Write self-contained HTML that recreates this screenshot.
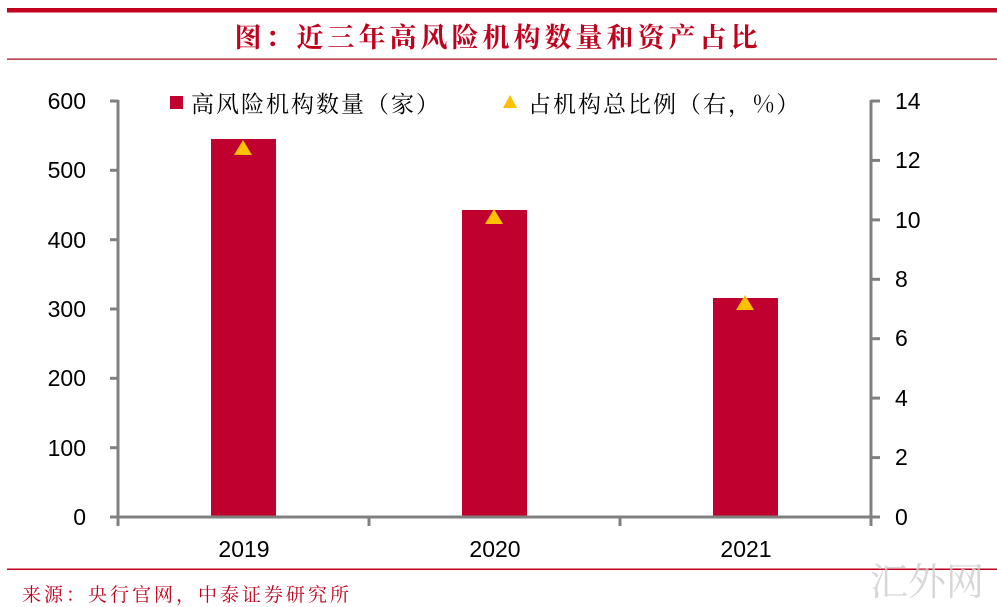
<!DOCTYPE html>
<html><head><meta charset="utf-8"><style>
body{margin:0;background:#fff;}
svg{display:block;}
</style></head><body>
<svg width="997" height="607" viewBox="0 0 997 607" xmlns="http://www.w3.org/2000/svg">
<rect x="7" y="8" width="990" height="4.5" fill="#c0001c"/>
<text x="498" y="47" text-anchor="middle" font-family="'Noto Serif CJK SC','Liberation Serif',serif" font-size="27" font-weight="bold" letter-spacing="4" fill="#c0001c">图：近三年高风险机构数量和资产占比</text>
<rect x="7" y="58.5" width="990" height="1.2" fill="#a00018"/>
<g fill="#c0002e">
<rect x="211" y="139" width="65" height="378"/>
<rect x="462" y="210" width="65" height="307"/>
<rect x="713" y="298" width="65" height="219"/>
</g>
<g stroke="#808080" stroke-width="3" fill="none">
<line x1="118" y1="100" x2="118" y2="518"/>
<line x1="871" y1="100" x2="871" y2="518"/>
<line x1="110" y1="517" x2="880" y2="517"/>
<line x1="110" y1="101" x2="118" y2="101"/><line x1="110" y1="170.3" x2="118" y2="170.3"/><line x1="110" y1="239.7" x2="118" y2="239.7"/><line x1="110" y1="309" x2="118" y2="309"/><line x1="110" y1="378.3" x2="118" y2="378.3"/><line x1="110" y1="447.7" x2="118" y2="447.7"/>
<line x1="871" y1="101" x2="880" y2="101"/><line x1="871" y1="160.4" x2="880" y2="160.4"/><line x1="871" y1="219.9" x2="880" y2="219.9"/><line x1="871" y1="279.3" x2="880" y2="279.3"/><line x1="871" y1="338.7" x2="880" y2="338.7"/><line x1="871" y1="398.1" x2="880" y2="398.1"/><line x1="871" y1="457.6" x2="880" y2="457.6"/>
<line x1="118" y1="517" x2="118" y2="526"/><line x1="369" y1="517" x2="369" y2="526"/><line x1="620" y1="517" x2="620" y2="526"/><line x1="871" y1="517" x2="871" y2="526"/>
</g>
<g font-family="'Liberation Sans',sans-serif" font-size="23" fill="#000" text-anchor="end">
<text x="86" y="109">600</text><text x="86" y="178">500</text><text x="86" y="248">400</text><text x="86" y="317">300</text><text x="86" y="386">200</text><text x="86" y="456">100</text><text x="86" y="525">0</text>
</g>
<g font-family="'Liberation Sans',sans-serif" font-size="23" fill="#000" text-anchor="start">
<text x="895" y="109">14</text><text x="895" y="168">12</text><text x="895" y="228">10</text><text x="895" y="287">8</text><text x="895" y="346">6</text><text x="895" y="406">4</text><text x="895" y="465">2</text><text x="895" y="525">0</text>
</g>
<g font-family="'Liberation Sans',sans-serif" font-size="23" fill="#000" text-anchor="middle">
<text x="244" y="557">2019</text><text x="495" y="557">2020</text><text x="746" y="557">2021</text>
</g>
<g fill="#ffc000">
<polygon points="243,140 234,155 252,155"/>
<polygon points="494,209 485,224 503,224"/>
<polygon points="745,295 736,310 754,310"/>
<polygon points="510,95 503,108 517,108"/>
</g>
<rect x="170" y="96" width="13" height="13" fill="#c0002e"/>
<g font-family="'Noto Serif CJK SC','Liberation Serif',serif" font-size="23" fill="#000" letter-spacing="2">
<text x="191" y="112">高风险机构数量（家）</text>
<text x="528" y="112">占机构总比例（右，%）</text>
</g>
<rect x="7" y="568.5" width="990" height="1.5" fill="#c0001c"/>
<text x="22" y="601" font-family="'Noto Serif CJK SC','Liberation Serif',serif" font-size="19" letter-spacing="3" fill="#c0001c">来源：央行官网，中泰证券研究所</text>
<text x="870" y="595" font-family="'Noto Serif CJK SC',serif" font-size="38" fill="#ccc" opacity="0.8">汇外网</text>
</svg>
</body></html>
